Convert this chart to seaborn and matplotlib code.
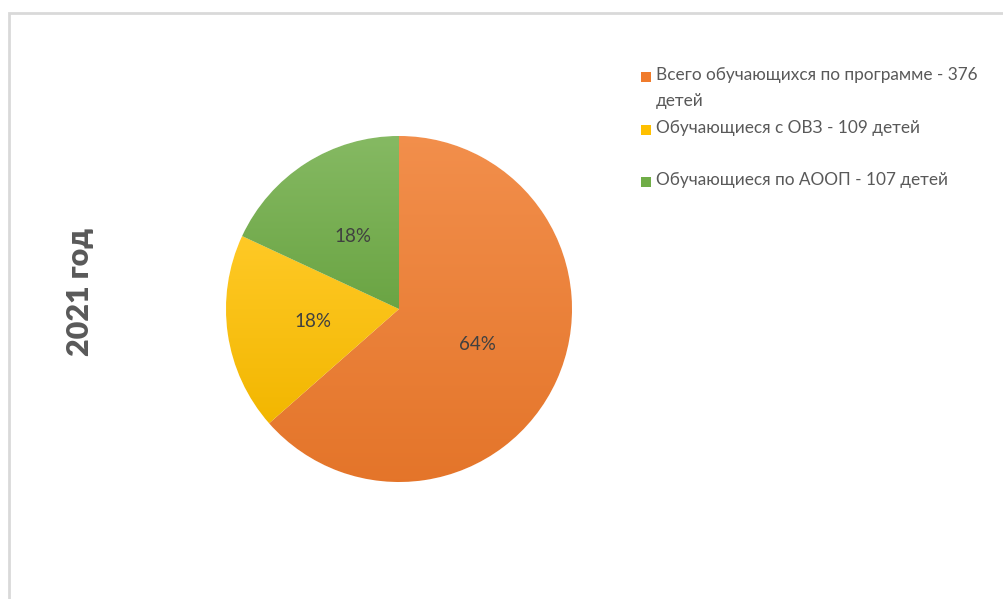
import numpy as np
import matplotlib
matplotlib.use('Agg')
import matplotlib.pyplot as plt
import matplotlib.colors as mcolors
from matplotlib.patches import Rectangle
import seaborn as sns

# данные
labels = ['Всего обучающихся по программе - 376\nдетей',
          'Обучающиеся с ОВЗ - 109 детей',
          'Обучающиеся по АООП - 107 детей']
values = [376, 109, 107]
colors = ['#F07B2C', '#FFC000', '#70AD47']
title = '2021 год'

sns.set_theme(style='white')
plt.rcParams['font.family'] = ['Lato', 'DejaVu Sans']

W, H = 1004, 599
fig = plt.figure(figsize=(W / 100, H / 100), dpi=100)
fig.patch.set_facecolor('white')

# рамка области диаграммы
fig.patches.append(Rectangle((9 / W, -0.1), 1.2, (H - 13) / H + 0.1, transform=fig.transFigure,
                             fill=False, edgecolor='#D9D9D9', linewidth=2))

cx, cy, r = 399, 309, 173
ax = fig.add_axes([(cx - r) / W, (H - cy - r) / H, 2 * r / W, 2 * r / H])
wedges, texts, autotexts = ax.pie(values, colors=colors, startangle=90, counterclock=False,
                                  autopct='%1.0f%%', pctdistance=0.5,
                                  textprops={'color': '#404040', 'fontsize': 13.5})
ax.set_aspect('equal')
ax.axis('off')


def mix(c, other, t):
    a = np.array(mcolors.to_rgb(c))
    b = np.array(mcolors.to_rgb(other))
    return a * (1 - t) + b * t


# вертикальный градиент внутри каждого сектора
for w, c in zip(wedges, colors):
    ext = w.get_path().get_extents()
    top = mix(c, 'white', 0.15)
    bot = mix(c, 'black', 0.05)
    t = np.linspace(0, 1, 256)[:, None]
    grad = top[None, :] * (1 - t) + bot[None, :] * t
    img = ax.imshow(grad[:, None, :], extent=(ext.x0, ext.x1, ext.y0, ext.y1),
                    origin='upper', aspect='auto', zorder=w.get_zorder() + 0.5,
                    interpolation='bilinear')
    img.set_clip_path(w)
for t in autotexts:
    t.set_zorder(5)
ax.set_xlim(-1, 1)
ax.set_ylim(-1, 1)

# заголовок слева
fig.text(80 / W, 1 - 292 / H, title, rotation=90, ha='center', va='center',
         fontsize=22, fontweight='heavy', color='#595959')

# легенда
leg_y = [77, 130, 182]
for lab, c, y in zip(labels, colors, leg_y):
    fig.patches.append(Rectangle((641 / W, 1 - (y + 5) / H), 10 / W, 10 / H,
                                 transform=fig.transFigure, facecolor=c, edgecolor='none'))
    fig.text(656 / W, 1 - (y - 10) / H, lab, ha='left', va='top', fontsize=12.4,
             color='#595959', linespacing=1.75)

fig.savefig('out.png', dpi=100)
